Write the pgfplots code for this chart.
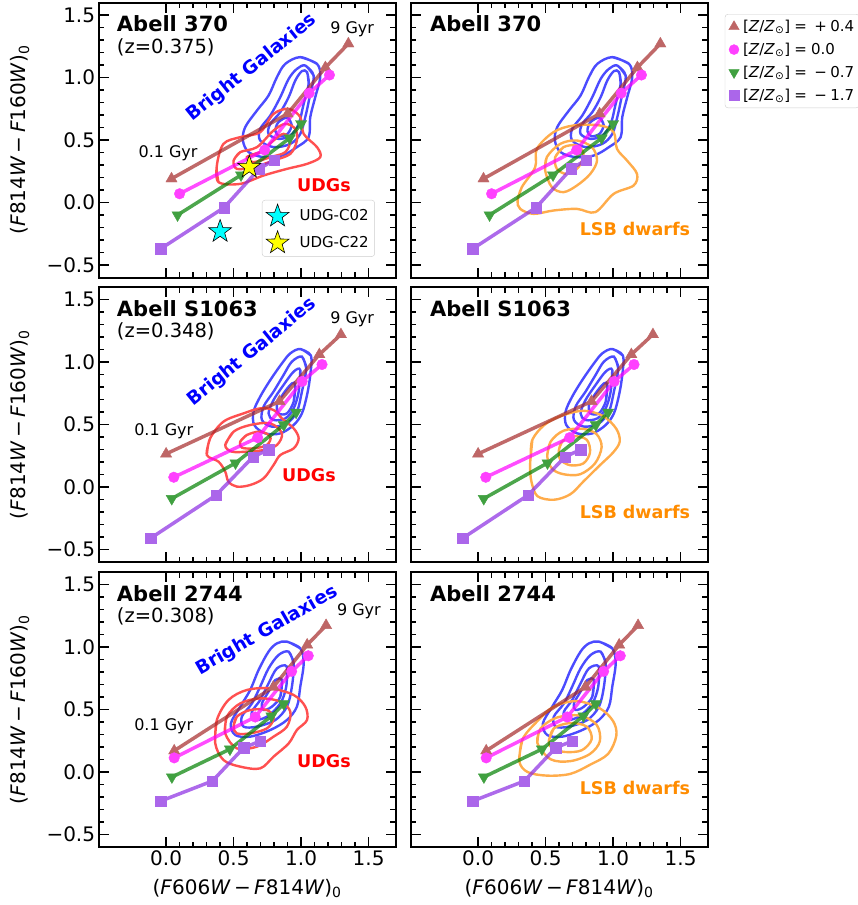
\documentclass[border=0pt]{standalone}
\usepackage{fontspec}
\setmainfont{DejaVu Sans}
\usepackage{pgfplots}
\pgfplotsset{compat=1.18}

\definecolor{trBrown}{RGB}{165,42,42}
\definecolor{trMag}{RGB}{255,0,255}
\definecolor{trGreen}{RGB}{0,128,0}
\definecolor{trPurp}{RGB}{138,43,226}
\colorlet{trBrownL}{trBrown!72!white}
\colorlet{trMagL}{trMag!75!white}
\colorlet{trGreenL}{trGreen!75!white}
\colorlet{trPurpL}{trPurp!72!white}
\definecolor{cBlue}{RGB}{75,75,255}
\definecolor{cRed}{RGB}{255,80,80}
\definecolor{cOrange}{RGB}{255,172,75}
\definecolor{txOrange}{RGB}{255,140,0}
\definecolor{stCyan}{RGB}{0,255,255}
\definecolor{stYellow}{RGB}{255,255,0}

\pgfdeclareplotmark{fstar}{%
  \pgfpathmoveto{\pgfqpoint{0pt}{10pt}}%
  \pgfpathlineto{\pgfqpoint{-2.351pt}{3.236pt}}%
  \pgfpathlineto{\pgfqpoint{-9.511pt}{3.090pt}}%
  \pgfpathlineto{\pgfqpoint{-3.804pt}{-1.236pt}}%
  \pgfpathlineto{\pgfqpoint{-5.878pt}{-8.090pt}}%
  \pgfpathlineto{\pgfqpoint{0pt}{-4pt}}%
  \pgfpathlineto{\pgfqpoint{5.878pt}{-8.090pt}}%
  \pgfpathlineto{\pgfqpoint{3.804pt}{-1.236pt}}%
  \pgfpathlineto{\pgfqpoint{9.511pt}{3.090pt}}%
  \pgfpathlineto{\pgfqpoint{2.351pt}{3.236pt}}%
  \pgfpathclose
  \pgfusepathqfillstroke
}

\tikzset{mk/.style={solid, line width=0.4pt, opacity=1, draw opacity=1}}

\pgfplotsset{
  panel/.style={
    scale only axis, width=297pt, height=275pt, anchor=north west,
    xmin=-0.5, xmax=1.7, ymin=-0.6, ymax=1.6,
    xtick={0,0.5,1,1.5}, ytick={-0.5,0,0.5,1,1.5},
    minor x tick num=4, minor y tick num=4,
    tick align=inside,
    major tick length=10pt, minor tick length=5.5pt,
    every tick/.style={black, line width=1.4pt},
    axis line style={line width=2pt},
    xticklabels={}, yticklabels={},
    tick label style={font=\fontsize{20}{24}\selectfont},
    every axis y label/.style={at={(axis description cs:-0.265,0.5)},rotate=90,anchor=center,font=\fontsize{20}{24}\selectfont},
    every axis x label/.style={at={(axis description cs:0.5,-0.15)},anchor=center,font=\fontsize{20}{24}\selectfont},
    legend cell align=left,
  },
  cont/.style={smooth, tension=0.55, line width=2.4pt, no markers, forget plot},
  trk/.style={line width=3.5pt, draw opacity=0.7, forget plot},
}

\newcommand{\yl}{(\textit{F}814\textit{W}\,−\,\textit{F}160\textit{W})\textsubscript{0}}
\newcommand{\xl}{(\textit{F}606\textit{W}\,−\,\textit{F}814\textit{W})\textsubscript{0}}

% ---------------- Row A (Abell 370) ----------------
\newcommand{\blueA}{%
\addplot[cont,cBlue] coordinates {(0.994,1.163) (1.118,1.109) (1.142,1.003) (1.105,0.843) (1.068,0.683) (1.056,0.523) (0.969,0.443) (0.858,0.376) (0.722,0.363) (0.611,0.403) (0.569,0.496) (0.586,0.603) (0.673,0.736) (0.759,0.856) (0.821,1.003) (0.883,1.109) (0.994,1.163) (1.118,1.109)};
\addplot[cont,cBlue] coordinates {(1.031,1.096) (1.093,1.016) (1.063,0.843) (1.031,0.683) (0.994,0.549) (0.920,0.469) (0.796,0.443) (0.697,0.496) (0.697,0.589) (0.772,0.696) (0.846,0.843) (0.908,0.989) (0.969,1.069) (1.031,1.096) (1.093,1.016)};
\addplot[cont,cBlue] coordinates {(1.044,1.043) (1.056,0.949) (1.019,0.789) (0.982,0.629) (0.920,0.536) (0.833,0.509) (0.759,0.549) (0.772,0.629) (0.846,0.723) (0.908,0.843) (0.957,0.976) (1.006,1.051) (1.044,1.043) (1.056,0.949)};
\addplot[cont,cBlue] coordinates {(0.90,0.68) (0.93,0.62) (0.90,0.55) (0.84,0.53) (0.81,0.57) (0.83,0.64) (0.90,0.68) (0.93,0.62)};
}
\newcommand{\redA}{%
\addplot[cont,cRed] coordinates {(0.388,0.163) (0.376,0.296) (0.425,0.469) (0.549,0.523) (0.697,0.563) (0.796,0.709) (0.908,0.749) (0.994,0.683) (1.019,0.549) (1.118,0.443) (1.142,0.363) (1.044,0.309) (0.895,0.269) (0.722,0.216) (0.549,0.149) (0.388,0.163) (0.376,0.296)};
\addplot[cont,cRed] coordinates {(0.5,0.336) (0.549,0.403) (0.673,0.443) (0.796,0.576) (0.883,0.629) (0.957,0.589) (0.969,0.496) (0.920,0.389) (0.796,0.336) (0.648,0.283) (0.524,0.269) (0.5,0.336) (0.549,0.403)};
\addplot[cont,cRed] coordinates {(0.598,0.363) (0.697,0.403) (0.796,0.496) (0.870,0.549) (0.920,0.496) (0.883,0.403) (0.772,0.363) (0.648,0.323) (0.598,0.363) (0.697,0.403)};
}
\newcommand{\orangeA}{%
\addplot[cont,cOrange] coordinates {(0.292,0.016) (0.324,0.123) (0.423,0.283) (0.435,0.429) (0.559,0.563) (0.707,0.616) (0.905,0.616) (1.004,0.563) (1.029,0.429) (1.103,0.336) (1.177,0.229) (1.152,0.136) (1.004,0.069) (0.868,-0.077) (0.732,-0.051) (0.559,-0.064) (0.410,-0.091) (0.312,-0.051) (0.292,0.016) (0.324,0.123)};
\addplot[cont,cOrange] coordinates {(0.497,0.256) (0.509,0.363) (0.608,0.469) (0.732,0.496) (0.843,0.443) (0.881,0.336) (0.831,0.229) (0.732,0.136) (0.633,0.083) (0.546,0.123) (0.497,0.256) (0.509,0.363)};
\addplot[cont,cOrange] coordinates {(0.571,0.363) (0.633,0.443) (0.732,0.456) (0.781,0.389) (0.744,0.283) (0.658,0.229) (0.584,0.269) (0.571,0.363) (0.633,0.443)};
}
\newcommand{\tracksA}{%
\addplot[trk,trBrown,mark=triangle*,mark size=6.5pt,mark options={mk,fill=trBrownL,draw=trBrownL}] coordinates {(0.04,0.19) (0.90,0.71) (1.18,1.08) (1.35,1.27)};
\addplot[trk,trMag,mark=*,mark size=5.3pt,mark options={mk,fill=trMagL,draw=trMagL}] coordinates {(0.10,0.07) (0.73,0.42) (1.06,0.875) (1.21,1.02)};
\addplot[trk,trGreen,mark=triangle*,mark size=6.5pt,mark options={mk,fill=trGreenL,draw=trGreenL,rotate=180}] coordinates {(0.085,-0.10) (0.555,0.22) (0.915,0.515) (1.0,0.63)};
\addplot[trk,trPurp,mark=square*,mark size=5.2pt,mark options={mk,fill=trPurpL,draw=trPurpL}] coordinates {(-0.04,-0.37) (0.43,-0.04) (0.69,0.27) (0.80,0.34)};
}

% ---------------- Row B (Abell S1063) ----------------
\newcommand{\blueB}{%
\addplot[cont,cBlue] coordinates {(0.994,1.104) (1.073,1.051) (1.068,0.896) (1.044,0.736) (1.006,0.589) (0.945,0.496) (0.846,0.429) (0.734,0.429) (0.653,0.496) (0.648,0.603) (0.697,0.723) (0.772,0.856) (0.858,0.989) (0.920,1.069) (0.994,1.104) (1.073,1.051)};
\addplot[cont,cBlue] coordinates {(1.006,1.043) (1.038,0.949) (1.006,0.763) (0.969,0.603) (0.895,0.509) (0.784,0.483) (0.710,0.536) (0.722,0.643) (0.796,0.763) (0.870,0.896) (0.932,1.003) (1.006,1.043) (1.038,0.949)};
\addplot[cont,cBlue] coordinates {(0.994,0.936) (0.982,0.763) (0.945,0.629) (0.883,0.549) (0.796,0.536) (0.759,0.589) (0.796,0.696) (0.870,0.816) (0.945,0.923) (0.994,0.936) (0.982,0.763)};
\addplot[cont,cBlue] coordinates {(0.957,0.816) (0.945,0.683) (0.895,0.589) (0.833,0.589) (0.821,0.656) (0.870,0.749) (0.932,0.829) (0.957,0.816) (0.945,0.683)};
}
\newcommand{\redB}{%
\addplot[cont,cRed] coordinates {(0.302,0.256) (0.326,0.389) (0.425,0.523) (0.574,0.589) (0.697,0.629) (0.796,0.616) (0.858,0.549) (0.945,0.469) (0.982,0.389) (0.945,0.309) (0.846,0.256) (0.796,0.176) (0.722,0.069) (0.623,0.016) (0.524,0.003) (0.462,0.043) (0.438,0.123) (0.388,0.203) (0.302,0.256) (0.326,0.389)};
\addplot[cont,cRed] coordinates {(0.438,0.336) (0.5,0.443) (0.623,0.496) (0.772,0.509) (0.858,0.429) (0.821,0.336) (0.722,0.296) (0.598,0.283) (0.487,0.283) (0.438,0.336) (0.5,0.443)};
\addplot[cont,cRed] coordinates {(0.549,0.363) (0.598,0.416) (0.697,0.443) (0.772,0.403) (0.747,0.336) (0.648,0.309) (0.561,0.315) (0.549,0.363) (0.598,0.416)};
}
\newcommand{\orangeB}{%
\addplot[cont,cOrange] coordinates {(0.390,0.247) (0.402,0.378) (0.488,0.494) (0.610,0.567) (0.780,0.610) (0.927,0.567) (1.024,0.465) (1.049,0.363) (1.0,0.276) (0.902,0.174) (0.780,0.044) (0.683,-0.058) (0.561,-0.102) (0.439,-0.073) (0.395,0.044) (0.385,0.160) (0.390,0.247) (0.402,0.378)};
\addplot[cont,cOrange] coordinates {(0.512,0.247) (0.537,0.363) (0.634,0.451) (0.780,0.465) (0.878,0.422) (0.915,0.320) (0.866,0.189) (0.756,0.102) (0.634,0.102) (0.549,0.145) (0.512,0.247) (0.537,0.363)};
\addplot[cont,cOrange] coordinates {(0.598,0.291) (0.622,0.363) (0.707,0.407) (0.805,0.378) (0.829,0.276) (0.780,0.189) (0.683,0.174) (0.610,0.218) (0.598,0.291) (0.622,0.363)};
}
\newcommand{\tracksB}{%
\addplot[trk,trBrown,mark=triangle*,mark size=6.5pt,mark options={mk,fill=trBrownL,draw=trBrownL}] coordinates {(0.0,0.265) (0.84,0.685) (1.135,1.06) (1.295,1.22)};
\addplot[trk,trMag,mark=*,mark size=5.3pt,mark options={mk,fill=trMagL,draw=trMagL}] coordinates {(0.057,0.078) (0.678,0.395) (1.008,0.845) (1.155,0.98)};
\addplot[trk,trGreen,mark=triangle*,mark size=6.5pt,mark options={mk,fill=trGreenL,draw=trGreenL,rotate=180}] coordinates {(0.042,-0.093) (0.514,0.192) (0.872,0.497) (0.963,0.598)};
\addplot[trk,trPurp,mark=square*,mark size=5.2pt,mark options={mk,fill=trPurpL,draw=trPurpL}] coordinates {(-0.115,-0.41) (0.37,-0.065) (0.643,0.24) (0.76,0.30)};
}

% ---------------- Row C (Abell 2744) ----------------
\newcommand{\blueC}{%
\addplot[cont,cBlue] coordinates {(0.895,1.043) (0.994,0.989) (1.019,0.869) (0.994,0.683) (0.969,0.523) (0.895,0.416) (0.772,0.336) (0.623,0.283) (0.512,0.296) (0.480,0.389) (0.549,0.523) (0.623,0.656) (0.685,0.816) (0.759,0.963) (0.821,1.029) (0.895,1.043) (0.994,0.989)};
\addplot[cont,cBlue] coordinates {(0.908,0.963) (0.945,0.869) (0.932,0.683) (0.895,0.523) (0.809,0.416) (0.673,0.363) (0.574,0.363) (0.561,0.443) (0.636,0.549) (0.697,0.683) (0.759,0.829) (0.833,0.936) (0.908,0.963) (0.945,0.869)};
\addplot[cont,cBlue] coordinates {(0.895,0.843) (0.890,0.683) (0.846,0.549) (0.747,0.443) (0.648,0.416) (0.636,0.483) (0.697,0.576) (0.759,0.709) (0.821,0.829) (0.895,0.843) (0.890,0.683)};
\addplot[cont,cBlue] coordinates {(0.858,0.736) (0.846,0.603) (0.784,0.523) (0.722,0.496) (0.710,0.549) (0.759,0.643) (0.809,0.736) (0.858,0.736) (0.846,0.603)};
}
\newcommand{\redC}{%
\addplot[cont,cRed] coordinates {(0.364,0.229) (0.376,0.416) (0.462,0.576) (0.598,0.656) (0.772,0.669) (0.945,0.616) (1.031,0.523) (1.044,0.416) (0.969,0.336) (0.908,0.229) (0.796,0.123) (0.697,0.029) (0.549,0.043) (0.425,0.096) (0.364,0.229) (0.376,0.416)};
\addplot[cont,cRed] coordinates {(0.438,0.309) (0.450,0.443) (0.549,0.549) (0.697,0.589) (0.846,0.563) (0.920,0.483) (0.895,0.363) (0.796,0.283) (0.673,0.203) (0.524,0.189) (0.438,0.309) (0.450,0.443)};
\addplot[cont,cRed] coordinates {(0.5,0.363) (0.524,0.443) (0.623,0.496) (0.747,0.496) (0.796,0.429) (0.747,0.349) (0.623,0.309) (0.524,0.309) (0.5,0.363) (0.524,0.443)};
}
\newcommand{\orangeC}{%
\addplot[cont,cOrange] coordinates {(0.305,0.087) (0.329,0.262) (0.439,0.407) (0.561,0.523) (0.732,0.567) (0.902,0.509) (1.0,0.407) (1.024,0.291) (0.963,0.145) (0.829,0.058) (0.683,-0.015) (0.512,-0.029) (0.366,0.0) (0.305,0.087) (0.329,0.262)};
\addplot[cont,cOrange] coordinates {(0.439,0.233) (0.463,0.349) (0.585,0.436) (0.756,0.451) (0.878,0.378) (0.902,0.247) (0.829,0.145) (0.683,0.087) (0.537,0.102) (0.439,0.233) (0.463,0.349)};
\addplot[cont,cOrange] coordinates {(0.524,0.247) (0.561,0.349) (0.683,0.392) (0.805,0.363) (0.841,0.262) (0.768,0.174) (0.646,0.160) (0.549,0.189) (0.524,0.247) (0.561,0.349)};
}
\newcommand{\tracksC}{%
\addplot[trk,trBrown,mark=triangle*,mark size=6.5pt,mark options={mk,fill=trBrownL,draw=trBrownL}] coordinates {(0.06,0.17) (0.795,0.68) (1.045,1.017) (1.185,1.173)};
\addplot[trk,trMag,mark=*,mark size=5.3pt,mark options={mk,fill=trMagL,draw=trMagL}] coordinates {(0.06,0.113) (0.66,0.44) (0.93,0.805) (1.053,0.93)};
\addplot[trk,trGreen,mark=triangle*,mark size=6.5pt,mark options={mk,fill=trGreenL,draw=trGreenL,rotate=180}] coordinates {(0.043,-0.04) (0.473,0.183) (0.78,0.448) (0.872,0.545)};
\addplot[trk,trPurp,mark=square*,mark size=5.2pt,mark options={mk,fill=trPurpL,draw=trPurpL}] coordinates {(-0.041,-0.233) (0.343,-0.072) (0.575,0.194) (0.698,0.248)};
}

\newcommand{\fA}{\fontsize{21}{25}\selectfont\bfseries}
\newcommand{\fZ}{\fontsize{19.5}{23}\selectfont}
\newcommand{\fG}{\fontsize{16}{19}\selectfont}
\newcommand{\fU}{\fontsize{17.5}{21}\selectfont\bfseries}
\newcommand{\fB}{\fontsize{18.5}{22}\selectfont\bfseries}
\newcommand{\ZZ}{[\textit{Z}/\textit{Z}\textsubscript{⊙}]}

\begin{document}
\begin{tikzpicture}
\useasboundingbox (0pt,0pt) rectangle (857pt,-905pt);

% ===== Row A left =====
\begin{axis}[panel, at={(98.6pt,-2.5pt)}, yticklabels={−0.5,0.0,0.5,1.0,1.5}, ylabel={\yl},
  legend image code/.code={\path[draw=none,fill=none] (0pt,-1pt) rectangle (31pt,1pt); \draw[#1] plot coordinates {(11pt,0pt)};},
  legend style={at={(0.55,0.282)}, anchor=north west, draw=black!20, rounded corners=3pt, fill=white,
      font=\fontsize{15}{18}\selectfont, inner xsep=4pt, inner ysep=4pt, row sep=5pt,
      nodes={inner sep=2pt}}]
\blueA
\redA
\tracksA
\addplot[only marks, mark=fstar, mark options={scale=1.2, fill=stCyan, draw=black, line width=0.6pt}] coordinates {(0.40,-0.232)};
\addlegendentry{UDG-C02}
\addplot[only marks, mark=fstar, mark options={scale=1.2, fill=stYellow, draw=black, line width=0.6pt}] coordinates {(0.616,0.283)};
\addlegendentry{UDG-C22}
\node[anchor=base west, font=\fA] at (rel axis cs:0.05,0.894) {Abell 370};
\node[anchor=base west, font=\fZ] at (rel axis cs:0.05,0.815) {(z=0.375)};
\node[anchor=base west, font=\fG] at (axis cs:1.19,1.35) {9 Gyr};
\node[anchor=base west, font=\fG] at (axis cs:-0.23,0.363) {0.1 Gyr};
\node[anchor=west, font=\fU, text=red] at (axis cs:0.945,0.136) {UDGs};
\node[rotate=38.6, font=\fB, text=blue] at (axis cs:0.636,1.077) {Bright Galaxies};
\end{axis}

% ===== Row A right =====
\begin{axis}[panel, at={(410.6pt,-2.5pt)},
  legend image code/.code={\path[draw=none,fill=none] (0pt,-1pt) rectangle (13pt,1pt); \draw[#1] plot coordinates {(6pt,0pt)};},
  legend style={at={(1.058,0.958)}, anchor=north west, draw=black!20, rounded corners=3pt, fill=white,
      font=\fontsize{15}{18}\selectfont, inner xsep=3pt, inner ysep=4pt, row sep=6pt,
      nodes={inner sep=2pt}}]
\addlegendimage{only marks, mark=triangle*, mark size=6pt, mark options={mk,fill=trBrownL,draw=trBrownL}}
\addlegendentry{\ZZ\;=\;\:+\:0.4}
\addlegendimage{only marks, mark=*, mark size=5pt, mark options={mk,fill=trMagL,draw=trMagL}}
\addlegendentry{\ZZ\;=\;0.0}
\addlegendimage{only marks, mark=triangle*, mark size=6pt, mark options={mk,fill=trGreenL,draw=trGreenL,rotate=180}}
\addlegendentry{\ZZ\;=\;\:−\:0.7}
\addlegendimage{only marks, mark=square*, mark size=5pt, mark options={mk,fill=trPurpL,draw=trPurpL}}
\addlegendentry{\ZZ\;=\;\:−\:1.7}
\blueA
\orangeA
\tracksA
\node[anchor=base west, font=\fA] at (rel axis cs:0.054,0.894) {Abell 370};
\node[anchor=west, font=\fU, text=txOrange] at (axis cs:0.727,-0.21) {LSB dwarfs};
\end{axis}

% ===== Row B left =====
\begin{axis}[panel, at={(98.6pt,-287pt)}, yticklabels={−0.5,0.0,0.5,1.0,1.5}, ylabel={\yl}]
\blueB
\redB
\tracksB
\node[anchor=base west, font=\fA] at (rel axis cs:0.05,0.894) {Abell S1063};
\node[anchor=base west, font=\fZ] at (rel axis cs:0.05,0.815) {(z=0.348)};
\node[anchor=base west, font=\fG] at (axis cs:1.19,1.31) {9 Gyr};
\node[anchor=base west, font=\fG] at (axis cs:-0.262,0.416) {0.1 Gyr};
\node[anchor=west, font=\fU, text=red] at (axis cs:0.834,0.096) {UDGs};
\node[rotate=39, font=\fB, text=blue] at (axis cs:0.636,1.077) {Bright Galaxies};
\end{axis}

% ===== Row B right =====
\begin{axis}[panel, at={(410.6pt,-287pt)}]
\blueB
\orangeB
\tracksB
\node[anchor=base west, font=\fA] at (rel axis cs:0.054,0.894) {Abell S1063};
\node[anchor=west, font=\fU, text=txOrange] at (axis cs:0.727,-0.2) {LSB dwarfs};
\end{axis}

% ===== Row C left =====
\begin{axis}[panel, at={(98.6pt,-572pt)}, yticklabels={−0.5,0.0,0.5,1.0,1.5}, ylabel={\yl},
  xticklabels={0.0,0.5,1.0,1.5}, xlabel={\xl}]
\blueC
\redC
\tracksC
\node[anchor=base west, font=\fA] at (rel axis cs:0.05,0.894) {Abell 2744};
\node[anchor=base west, font=\fZ] at (rel axis cs:0.05,0.815) {(z=0.308)};
\node[anchor=base west, font=\fG] at (axis cs:1.24,1.256) {9 Gyr};
\node[anchor=base west, font=\fG] at (axis cs:-0.262,0.336) {0.1 Gyr};
\node[anchor=west, font=\fU, text=red] at (axis cs:0.945,0.09) {UDGs};
\node[rotate=30, font=\fB, text=blue] at (axis cs:0.747,1.13) {Bright Galaxies};
\end{axis}

% ===== Row C right =====
\begin{axis}[panel, at={(410.6pt,-572pt)}, xticklabels={0.0,0.5,1.0,1.5}, xlabel={\xl}]
\blueC
\orangeC
\tracksC
\node[anchor=base west, font=\fA] at (rel axis cs:0.054,0.894) {Abell 2744};
\node[anchor=west, font=\fU, text=txOrange] at (axis cs:0.727,-0.128) {LSB dwarfs};
\end{axis}
\end{tikzpicture}
\end{document}
